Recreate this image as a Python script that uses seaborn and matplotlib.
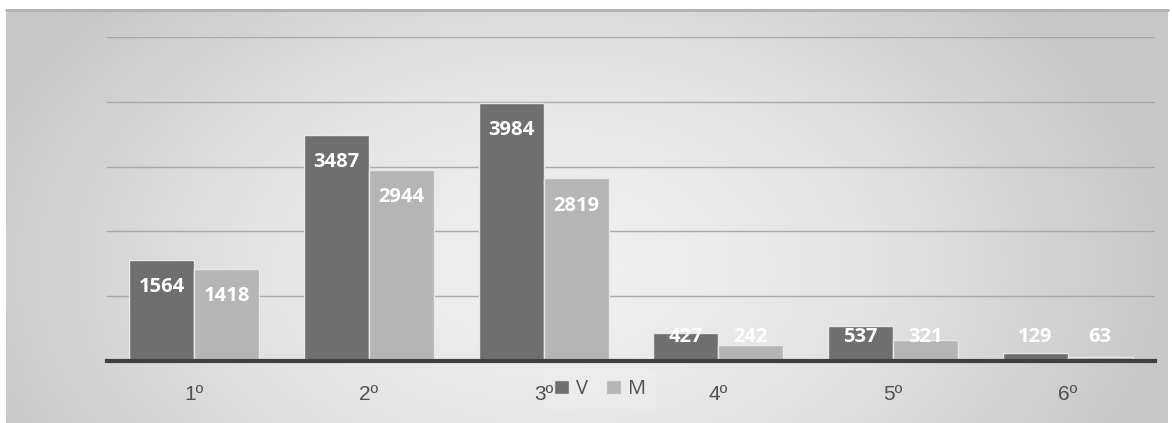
import numpy as np
import pandas as pd
import matplotlib
matplotlib.use("Agg")
import matplotlib.pyplot as plt
from matplotlib.colors import LinearSegmentedColormap
import seaborn as sns

# --- datos ---
cursos = ["1º", "2º", "3º", "4º", "5º", "6º"]
valores_v = [1564, 3487, 3984, 427, 537, 129]
valores_m = [1418, 2944, 2819, 242, 321, 63]
series = ["V", "M"]
colores = ["#6f6f6f", "#b5b5b5"]

df = pd.DataFrame({
    "curso": cursos * 2,
    "valor": valores_v + valores_m,
    "serie": ["V"] * len(cursos) + ["M"] * len(cursos),
})

sns.set_theme(style="white")
plt.rcParams["font.family"] = ["Open Sans", "DejaVu Sans"]

W, H = 1172, 423
fig = plt.figure(figsize=(W / 100, H / 100), dpi=100)
fig.patch.set_facecolor("white")

# --- fondo con degradado ---
bg = fig.add_axes([0, 0, 1, 1], zorder=-1)
bg.set_xlim(0, 1)
bg.set_ylim(0, 1)
bg.axis("off")
xx, yy = np.meshgrid(np.linspace(-1, 1, 600), np.linspace(-1, 1, 300))
r = np.sqrt((xx + 0.05) ** 2 + (0.55 * (yy - 0.25)) ** 2)
cmap = LinearSegmentedColormap.from_list("fondo", ["#f2f2f2", "#e4e4e4", "#c8c8c8"])
bg.imshow(r, cmap=cmap, vmin=0, vmax=1.05, aspect="auto", origin="upper",
          extent=[6 / W, 1168 / W, 0, 1 - 10 / H])
bg.plot([6 / W, 1168 / W], [1 - 10 / H, 1 - 10 / H], color="#b0b0b0", lw=2)

# --- grafico ---
ax = fig.add_axes([107 / W, 62 / H, 1048 / W, 324 / H])
ax.set_facecolor("none")
sns.barplot(data=df, x="curso", y="valor", hue="serie", hue_order=series,
            palette=colores, width=0.745, saturation=1,
            edgecolor="#e8e8e8", linewidth=1, ax=ax)

ax.set_ylim(0, 5000)
ax.set_xlim(-0.5, len(cursos) - 0.5)
ax.set_yticks(range(0, 5001, 1000))
ax.yaxis.grid(True, color="#a8a8a8", lw=1)
ax.set_axisbelow(True)
ax.tick_params(axis="y", left=False, labelleft=False)
ax.tick_params(axis="x", length=0, pad=17, labelsize=15, labelcolor="#505050")
for t in ax.get_xticklabels():
    t.set_family(["Liberation Sans", "DejaVu Sans"])
ax.set_xlabel("")
ax.set_ylabel("")
for s in ["top", "left", "right"]:
    ax.spines[s].set_visible(False)
ax.spines["bottom"].set_color("#404040")
ax.spines["bottom"].set_linewidth(3)

# etiquetas de valor
for cont in ax.containers:
    for bar in cont:
        h = bar.get_height()
        y = max(h - 420, 370)
        ax.text(bar.get_x() + bar.get_width() / 2, y, f"{int(h)}",
                ha="center", va="center", color="white",
                fontsize=14.5, fontweight="bold")

handles, labels = ax.get_legend_handles_labels()
leg = ax.legend(handles, labels, loc="center", bbox_to_anchor=(600 / W, 1 - 389 / H),
                bbox_transform=fig.transFigure, ncol=2, frameon=True,
                facecolor="#f2f2f2", edgecolor="none", framealpha=0.35,
                handlelength=0.75, handleheight=0.75, handletextpad=0.35,
                columnspacing=0.9, fontsize=14.5, labelcolor="#505050",
                borderpad=0.5)
leg.set_zorder(0.3)

fig.savefig("out.png", dpi=100)
